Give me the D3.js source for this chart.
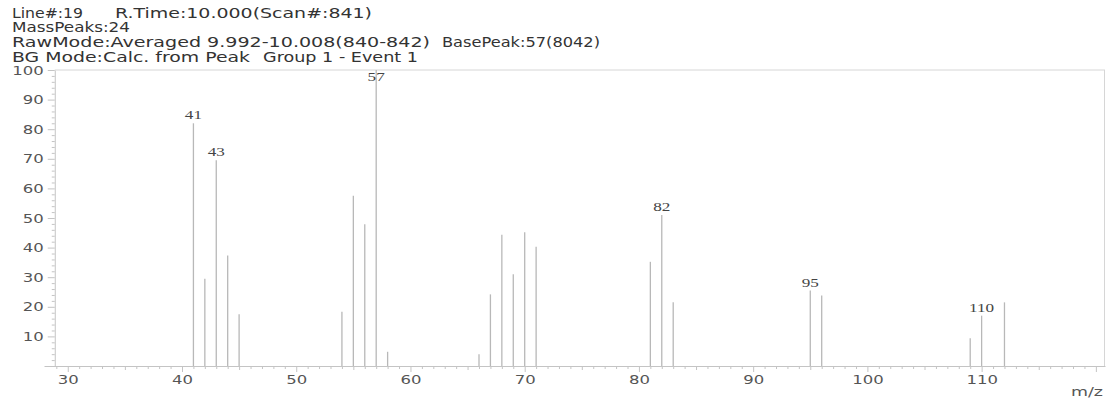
<!DOCTYPE html>
<html>
<head>
<meta charset="utf-8">
<script src="https://cdn.jsdelivr.net/npm/d3@7/dist/d3.min.js"></script>
<style>
body { margin: 0; background: #fff; }
svg { display: block; }
.hdr { font-family: "DejaVu Sans", Verdana, sans-serif; font-size: 13.5px; fill: #333; }
.tick text { font-family: "DejaVu Sans", Verdana, sans-serif; font-size: 12.5px; fill: #555; }
.peak-label { font-family: "Liberation Serif", "Times New Roman", serif; font-size: 13px; fill: #444; }
</style>
</head>
<body>
<svg id="chart" width="1107" height="398"></svg>
<script>
// spectrum values (m/z, relative intensity %)
const massValues  = [41, 42, 43, 44, 45, 54, 55, 56, 57, 58, 66, 67, 68, 69, 70, 71, 81, 82, 83, 95, 96, 109, 110, 112];
const intensities = [82, 29.5, 69.5, 37.3, 17.5, 18.3, 57.5, 47.9, 100, 4.8, 4.0, 24.2, 44.3, 31, 45.2, 40.3, 35.2, 51, 21.5, 25.5, 23.8, 9.4, 17, 21.5];
const labelledPeaks = [41, 43, 57, 82, 95, 110];

const xTickValues = [30, 40, 50, 60, 70, 80, 90, 100, 110, 120];
const xTickLabels = ["30", "40", "50", "60", "70", "80", "90", "100", "110", ""];
const yTickValues = [10, 20, 30, 40, 50, 60, 70, 80, 90, 100];

const headerTexts = [
  "Line#:19", "R.Time:10.000(Scan#:841)",
  "MassPeaks:24",
  "RawMode:Averaged 9.992-10.008(840-842)", "BasePeak:57(8042)",
  "BG Mode:Calc. from Peak", "Group 1 - Event 1"
];
// [x, width, baseline] for each header piece
const headerLayout = [
  [12, 71, 17.5], [115, 257, 17.5],
  [12, 118, 32],
  [12, 418, 47], [442, 158, 47],
  [12, 238, 61.5], [263, 155, 61.5]
];

const stretch = 1.32;
const svg = d3.select("#chart");
const x = d3.scaleLinear().domain([27.92, 120.8]).range([44, 1105]);
const y = d3.scaleLinear().domain([0, 100]).range([366, 70]);
const axisColor = "#c4c4c4";

// header
svg.selectAll("text.hdr")
  .data(headerTexts)
  .enter().append("text")
  .attr("class", "hdr")
  .attr("x", (d, i) => headerLayout[i][0])
  .attr("y", (d, i) => headerLayout[i][2])
  .attr("textLength", (d, i) => headerLayout[i][1])
  .attr("lengthAdjust", "spacingAndGlyphs")
  .text(d => d);

// frame top + right
svg.append("line")
  .attr("x1", x(30) - 13).attr("x2", x.range()[1])
  .attr("y1", y(100)).attr("y2", y(100))
  .attr("stroke", "#d6d6d6");
svg.append("line")
  .attr("x1", x.range()[1] - 0.5).attr("x2", x.range()[1] - 0.5)
  .attr("y1", y(100)).attr("y2", y(0))
  .attr("stroke", "#d6d6d6");

// minor ticks
svg.append("g")
  .attr("transform", `translate(0,${y(0)})`)
  .call(d3.axisBottom(x).tickValues(d3.range(29, 121).filter(v => v % 5)).tickSize(3).tickFormat(""))
  .call(g => g.select(".domain").remove());
svg.append("g")
  .attr("transform", `translate(0,${y(0)})`)
  .call(d3.axisBottom(x).tickValues(d3.range(35, 121, 10)).tickSize(4).tickFormat(""))
  .call(g => g.select(".domain").remove());
svg.append("g")
  .attr("transform", `translate(${x(30) - 13},0)`)
  .call(d3.axisLeft(y).tickValues(d3.range(2, 100, 2).filter(v => v % 10)).tickSize(3).tickFormat(""))
  .call(g => g.select(".domain").remove());

// main axes
const xAxis = svg.append("g")
  .attr("transform", `translate(0,${y(0)})`)
  .call(d3.axisBottom(x).tickValues(xTickValues).tickSize(6).tickSizeOuter(0)
    .tickFormat((d, i) => xTickLabels[i]));
xAxis.selectAll(".tick text").attr("y", 9).attr("transform", `scale(${stretch},1)`);

const yAxis = svg.append("g")
  .attr("transform", `translate(${x(30) - 13},0)`)
  .call(d3.axisLeft(y).tickValues(yTickValues).tickSize(7).tickSizeOuter(0));
yAxis.selectAll(".tick text").attr("x", -11 / stretch).attr("transform", `scale(${stretch},1)`);

svg.selectAll(".domain, .tick line").attr("stroke", axisColor);

// m/z label
svg.append("text")
  .attr("class", "hdr")
  .attr("transform", `translate(${x.range()[1] - 2},396) scale(1.4,1)`)
  .attr("text-anchor", "end")
  .style("fill", "#555")
  .style("font-size", "12.5px")
  .text("m/z");

// peaks
const peaks = massValues.map((m, i) => ({ m, v: intensities[i] }));
svg.append("g")
  .selectAll("line")
  .data(peaks)
  .enter().append("line")
  .attr("x1", d => x(d.m)).attr("x2", d => x(d.m))
  .attr("y1", y(0)).attr("y2", d => y(d.v))
  .attr("stroke", "#b8b8b8")
  .attr("stroke-width", 1.3);

// peak labels
svg.append("g")
  .selectAll("text")
  .data(peaks.filter(d => labelledPeaks.includes(d.m)))
  .enter().append("text")
  .attr("class", "peak-label")
  .attr("text-anchor", "middle")
  .attr("transform", d => `translate(${x(d.m)},${Math.max(y(d.v) - 4, y(100) + 11)}) scale(${stretch},1)`)
  .text(d => d.m);
</script>
</body>
</html>
